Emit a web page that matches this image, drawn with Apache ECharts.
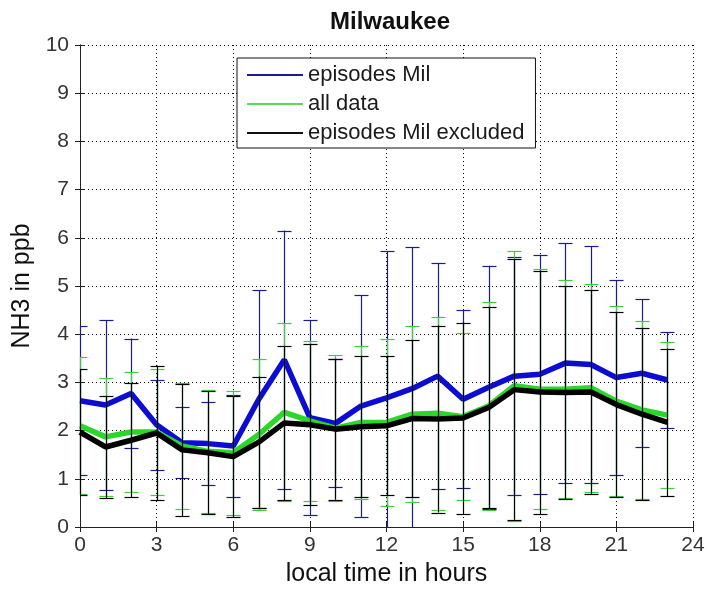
<!DOCTYPE html>
<html>
<head>
<meta charset="utf-8">
<title>Milwaukee NH3</title>
<script src="https://cdn.jsdelivr.net/npm/echarts@6/dist/echarts.min.js"></script>
<style>
  html, body { margin: 0; padding: 0; background: #fff; }
  #chart { width: 708px; height: 592px; }
</style>
</head>
<body>
<div id="chart"></div>
<script>
// Hourly NH3 means (ppb) with one-sided error half-widths
const hours = [0,1,2,3,4,5,6,7,8,9,10,11,12,13,14,15,16,17,18,19,20,21,22,23];

const milMean  = [2.62,2.53,2.77,2.12,1.75,1.73,1.68,2.65,3.47,2.27,2.15,2.51,2.68,2.87,3.13,2.65,2.90,3.13,3.17,3.40,3.37,3.10,3.19,3.05];
const milErr   = [1.55,1.76,1.14,0.94,0.74,0.86,1.05,2.26,2.68,2.02,1.33,2.30,3.04,2.94,2.35,1.85,2.52,2.47,2.48,2.49,2.45,2.02,1.53,0.99];

const allMean  = [2.10,1.87,1.97,1.97,1.68,1.57,1.54,1.92,2.38,2.20,2.05,2.17,2.17,2.34,2.36,2.29,2.51,2.93,2.86,2.86,2.89,2.61,2.43,2.32];
const allErr   = [1.42,1.23,1.24,1.31,1.30,1.27,1.29,1.57,1.85,1.66,1.52,1.58,1.73,1.83,2.00,1.74,2.15,2.80,2.49,2.26,2.16,1.97,1.85,1.51];

const exclMean = [1.97,1.66,1.80,1.95,1.60,1.54,1.46,1.76,2.16,2.12,2.03,2.08,2.10,2.25,2.24,2.26,2.48,2.85,2.80,2.79,2.80,2.54,2.34,2.17];
const exclErr  = [1.30,1.06,1.18,1.40,1.37,1.28,1.26,1.36,1.60,1.67,1.46,1.46,1.44,1.63,1.94,1.98,2.09,2.70,2.52,2.21,2.12,1.92,1.79,1.53];

const xTicks = [0,3,6,9,12,15,18,21,24];
const yTicks = [0,1,2,3,4,5,6,7,8,9,10];

const names = ['episodes Mil', 'all data', 'episodes Mil excluded'];
const lineColors = ['#0c0cd2', '#2ad82a', '#000000'];
const barColors  = ['#1c1c8c', '#40cc40', '#000000'];
const legendColors = ['#1c1c8c', '#55dd55', '#111111'];

const FONT = '"Liberation Sans", Arial, sans-serif';

function pairs(mean) { return hours.map((h, i) => [h, mean[i]]); }
function spans(mean, err) { return hours.map((h, i) => [h, mean[i] - err[i], mean[i] + err[i]]); }

// Vertical range bar with short caps, clipped to the plotting rectangle
function errRender(color) {
  return function (params, api) {
    const x = api.value(0), lo = api.value(1), hi = api.value(2);
    const pLo = api.coord([x, lo]);
    const pHi = api.coord([x, hi]);
    const cs = params.coordSys;
    const top = cs.y, bot = cs.y + cs.height, left = cs.x, right = cs.x + cs.width;
    const cap = 7;
    const px = Math.round(pLo[0]) + 0.5;
    const style = { stroke: color, lineWidth: 1.2 };
    const kids = [];
    const y1 = Math.min(pLo[1], bot), y2 = Math.max(pHi[1], top);
    kids.push({ type: 'line', shape: { x1: px, y1: y1, x2: px, y2: y2 }, style: style });
    [pLo[1], pHi[1]].forEach(function (py) {
      if (py >= top && py <= bot) {
        const yy = Math.round(py) + 0.5;
        kids.push({ type: 'line', shape: { x1: Math.max(left, px - cap), y1: yy, x2: Math.min(right, px + cap), y2: yy }, style: style });
      }
    });
    return { type: 'group', children: kids };
  };
}

const means = [milMean, allMean, exclMean];
const errs = [milErr, allErr, exclErr];

const series = [];
for (let k = 0; k < 3; k++) {
  series.push({
    name: names[k] + ' range',
    type: 'custom',
    renderItem: errRender(barColors[k]),
    data: spans(means[k], errs[k]),
    encode: { x: 0, y: [1, 2] },
    z: 2 + k * 2,
    silent: true
  });
  series.push({
    name: names[k],
    type: 'line',
    data: pairs(means[k]),
    showSymbol: false,
    symbol: 'none',
    color: legendColors[k],
    lineStyle: { color: lineColors[k], width: 5.5 },
    z: 3 + k * 2
  });
}

const gridLine = { show: true, lineStyle: { color: '#000', type: [1, 3], width: 1 } };
const axisLine = { show: true, lineStyle: { color: '#222', width: 1 } };
const tickIn = { show: true, inside: true, length: 5, lineStyle: { color: '#222' } };

const chart = echarts.init(document.getElementById('chart'), null, { renderer: 'canvas' });
chart.setOption({
  animation: false,
  backgroundColor: '#fff',
  title: {
    text: 'Milwaukee',
    left: 385,
    top: 5,
    textAlign: 'center',
    textStyle: { fontFamily: FONT, fontSize: 24, fontWeight: 'bold', color: '#111' }
  },
  legend: {
    data: names,
    orient: 'vertical',
    left: 237,
    top: 58,
    padding: [6, 11, 4, 10],
    itemGap: 7,
    itemWidth: 56,
    itemHeight: 2,
    icon: 'rect',
    backgroundColor: '#fff',
    borderColor: '#111',
    borderWidth: 1,
    textStyle: { fontFamily: FONT, fontSize: 22, color: '#1a1a1a', padding: [0, 0, 0, 0] }
  },
  grid: { left: 80, right: 15, top: 45, bottom: 64, containLabel: false },
  xAxis: [{
    type: 'value', min: 0, max: 24, interval: 3, position: 'bottom',
    name: 'local time in hours', nameLocation: 'middle', nameGap: 35,
    nameTextStyle: { fontFamily: FONT, fontSize: 25, color: '#111' },
    axisLine: axisLine, axisTick: tickIn, splitLine: gridLine,
    axisLabel: { fontFamily: FONT, fontSize: 21, color: '#333', margin: 8 }
  }, {
    type: 'value', min: 0, max: 24, interval: 3, position: 'top',
    axisLine: axisLine, axisTick: tickIn, splitLine: { show: false },
    axisLabel: { show: false }
  }],
  yAxis: [{
    type: 'value', min: 0, max: 10, interval: 1, position: 'left',
    name: 'NH3 in ppb', nameLocation: 'middle', nameGap: 40,
    nameTextStyle: { fontFamily: FONT, fontSize: 25, color: '#111' },
    axisLine: axisLine, axisTick: tickIn, splitLine: gridLine,
    axisLabel: { fontFamily: FONT, fontSize: 21, color: '#333', margin: 11 }
  }, {
    type: 'value', min: 0, max: 10, interval: 1, position: 'right',
    axisLine: axisLine, axisTick: tickIn, splitLine: { show: false },
    axisLabel: { show: false }
  }],
  series: series
});
</script>
</body>
</html>
